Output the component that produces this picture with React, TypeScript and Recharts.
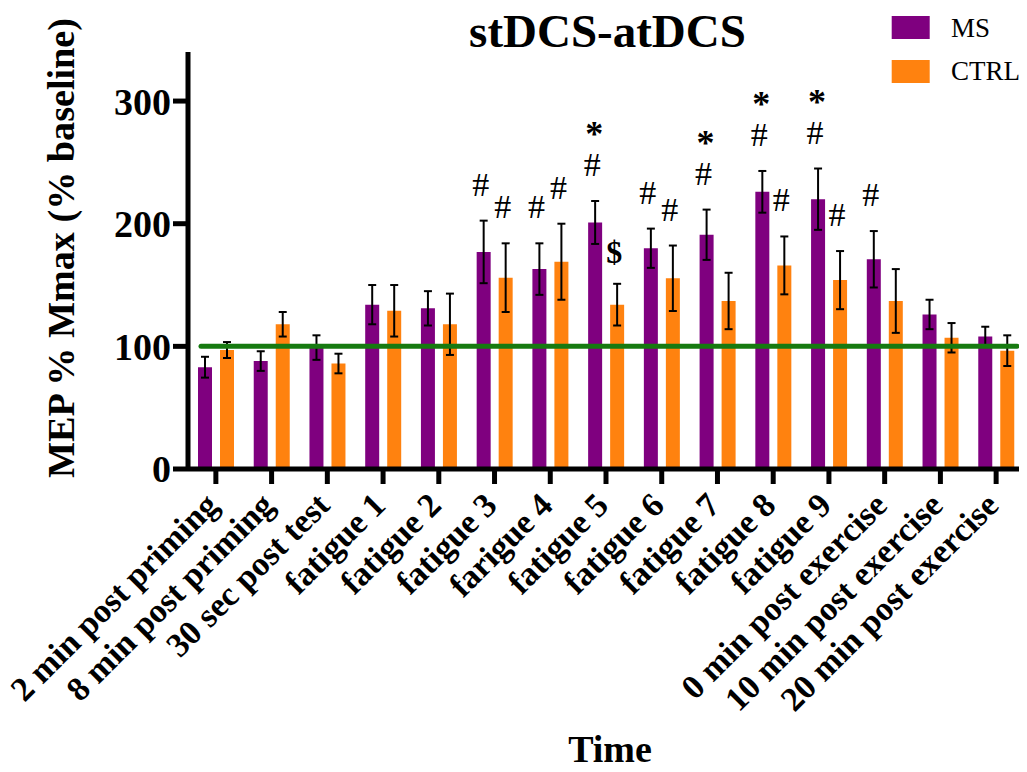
import React from 'react';
import { BarChart, Bar, XAxis, YAxis, ErrorBar, LabelList, ReferenceLine } from 'recharts';

const categories = [
  '2 min post priming', '8 min post priming', '30 sec post test', 'fatigue 1', 'fatigue 2',
  'fatigue 3', 'farigue 4', 'fatigue 5', 'fatigue 6', 'fatigue 7', 'fatigue 8', 'fatigue 9',
  '0 min post exercise', '10 min post exercise', '20 min post exercise',
];
const msMean = [83, 88, 99, 134, 131, 177, 163, 201, 180, 191, 226, 220, 171, 126, 108];
const msErr = [8.5, 8, 10, 16, 14, 25.5, 21, 17.5, 16, 20.5, 17, 25, 23, 12, 8];
const ctrlMean = [97, 118, 86, 129, 118, 156, 169, 134, 155.5, 137, 166, 154, 137, 107, 96.5];
const ctrlErr = [6.5, 10, 8, 21, 25, 28, 31, 17, 26.7, 23, 23.6, 23.7, 26, 12, 12.5];
const msSig = ['', '', '', '', '', '#', '#', '*#', '#', '*#', '*#', '*#', '#', '', ''];
const ctrlSig = ['', '', '', '', '', '#', '#', '$', '#', '', '#', '#', '', '', ''];
const yTicks = [0, 100, 200, 300];
const seriesNames = ['MS', 'CTRL'];
const seriesColors = ['#7F007F', '#FF820F'];
const baselineValue = 100;
const titleText = 'stDCS-atDCS';
const xTitle = 'Time';
const yTitle = 'MEP % Mmax (% baseline)';

const FONT = '"Liberation Serif", "Times New Roman", serif';

const data = categories.map((name, i) => ({
  name,
  ms: msMean[i],
  msErr: msErr[i],
  ctrl: ctrlMean[i],
  ctrlErr: ctrlErr[i],
  msSig: msSig[i],
  ctrlSig: ctrlSig[i],
}));

const XTick = (props: any) => {
  const { x, y, payload } = props;
  return (
    <g transform={`translate(${x},${y})`}>
      <text
        transform="rotate(-45)"
        x={-12}
        y={18}
        textAnchor="end"
        fontFamily={FONT}
        fontWeight="bold"
        fontSize={34}
        fill="#000"
      >
        {payload.value}
      </text>
    </g>
  );
};

const makeSig = (means: number[], errs: number[]) => (props: any) => {
  const { x, y, width, height, value, index } = props;
  if (!value) return null;
  const mean = means[index];
  const pxPerUnit = Math.abs(height) / mean;
  const errTop = y - errs[index] * pxPerUnit;
  const cx = x + width / 2 - 3;
  const out: any[] = [];
  if (value.includes('#')) {
    const b0 = errTop - 25;
    out.push(
      <text key="h" x={cx} y={b0} textAnchor="middle" fontFamily={FONT} fontSize={34} fill="#000">#</text>
    );
    if (value.includes('*')) {
      out.push(
        <text key="s" x={cx + 2} y={b0 - 30} textAnchor="middle" fontFamily={FONT} fontWeight="bold" fontSize={36} fill="#000">*</text>
      );
    }
  }
  if (value.includes('$')) {
    out.push(
      <text key="d" x={cx} y={errTop - 21} textAnchor="middle" fontFamily={FONT} fontWeight="bold" fontSize={32} fill="#000">$</text>
    );
  }
  return <g>{out}</g>;
};

const BaselineShape = (props: any) => {
  const { x1, y1, x2, y2 } = props;
  return (
    <line x1={x1 + 13} y1={y1} x2={x2 - 7} y2={y2} stroke="#167A10" strokeWidth={5} strokeLinecap="round" />
  );
};

export default function App() {
  return (
    <div style={{ width: 1019, height: 764 }}>
      <BarChart
        width={1019}
        height={764}
        data={data}
        margin={{ top: 44, right: 3, bottom: 0, left: 0 }}
        barSize={14}
        barGap={8}
        style={{ overflow: 'visible' }}
      >
        <XAxis
          dataKey="name"
          interval={0}
          height={303}
          tick={<XTick />}
          tickSize={15}
          tickLine={{ stroke: '#000', strokeWidth: 5 }}
          axisLine={{ stroke: '#000', strokeWidth: 5 }}
        />
        <YAxis
          domain={[0, 340]}
          ticks={yTicks}
          width={180}
          tickSize={15}
          tickLine={{ stroke: '#000', strokeWidth: 5 }}
          axisLine={{ stroke: '#000', strokeWidth: 5 }}
          tick={{ fontFamily: FONT, fontWeight: 'bold', fontSize: 38, fill: '#000' }}
        />
        <Bar dataKey="ms" name={seriesNames[0]} fill={seriesColors[0]} isAnimationActive={false}>
          <ErrorBar dataKey="msErr" width={4} stroke="#000" strokeWidth={2} />
          <LabelList dataKey="msSig" content={makeSig(msMean, msErr)} />
        </Bar>
        <Bar dataKey="ctrl" name={seriesNames[1]} fill={seriesColors[1]} isAnimationActive={false}>
          <ErrorBar dataKey="ctrlErr" width={4} stroke="#000" strokeWidth={2} />
          <LabelList dataKey="ctrlSig" content={makeSig(ctrlMean, ctrlErr)} />
        </Bar>
        <ReferenceLine y={baselineValue} shape={<BaselineShape />} ifOverflow="extendDomain" />
        <text x={599.5} y={38.5} textAnchor="middle" fontFamily={FONT} fontWeight="bold" fontSize={47} fill="#000">
          {titleText}
        </text>
        <text x={602} y={753.7} textAnchor="middle" fontFamily={FONT} fontWeight="bold" fontSize={38} fill="#000">
          {xTitle}
        </text>
        <text
          x={66}
          y={240}
          transform="rotate(-90, 66, 240)"
          textAnchor="middle"
          fontFamily={FONT}
          fontWeight="bold"
          fontSize={37}
          textLength={460}
          lengthAdjust="spacingAndGlyphs"
          fill="#000"
        >
          {yTitle}
        </text>
        {seriesNames.map((n, i) => (
          <g key={n}>
            <rect x={883.7} y={8 + i * 44} width={38} height={23} fill={seriesColors[i]} />
            <text x={943} y={28.7 + i * 43.3} fontFamily={FONT} fontSize={27} fill="#000">{n}</text>
          </g>
        ))}
      </BarChart>
    </div>
  );
}
